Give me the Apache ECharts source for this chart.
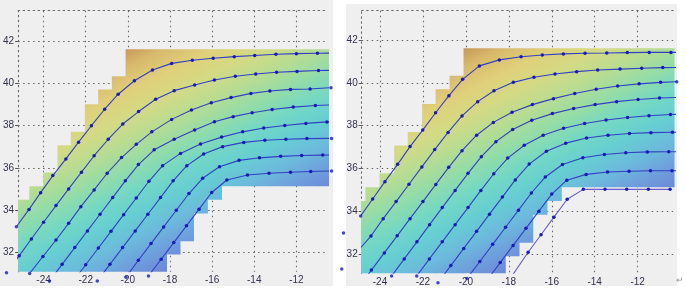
<!DOCTYPE html>
<html><head><meta charset="utf-8">
<script src="https://cdn.jsdelivr.net/npm/echarts@6/dist/echarts.min.js"></script>
<style>html,body{margin:0;padding:0;background:#fff}#c{width:685px;height:288px}</style>
</head><body><div id="c"></div>
<script>
// ---------- data ----------
const xTicks = [-24, -22, -20, -18, -16, -14, -12];
const yTicks = [32, 34, 36, 38, 40, 42];

// staircase region (cell columns): edges, top and bottom of each column
const regionEdges  = [-25.5, -24.66, -24.0, -23.32, -22.69, -22.02, -21.39, -20.74, -20.09, -18.16, -17.52, -16.88, -16.22, -15.55, -10.3];
const regionTop    = [34.48, 35.12, 35.77, 37.07, 37.70, 39.01, 39.70, 40.33, 41.61, 41.61, 41.61, 41.61, 41.61, 41.61];
const regionBottom = [31.0, 31.0, 31.0, 31.0, 31.0, 31.0, 31.0, 31.0, 31.0, 31.9, 32.52, 33.83, 34.48, 35.12];

// left panel lines
const L1 = [[-25.29,33.21],[-24.69,34.03],[-24.14,34.82],[-23.56,35.63],[-22.94,36.42],[-22.34,37.21],[-21.73,37.99],[-21.10,38.77],[-20.46,39.48],[-19.69,40.12],[-18.83,40.63],[-17.92,40.94],[-16.94,41.09],[-15.95,41.18],[-14.95,41.26],[-13.98,41.31],[-12.97,41.37],[-12.0,41.40],[-11.0,41.42],[-10.0,41.43]];
const L2 = [[-25.76,31.03],[-25.16,31.83],[-24.58,32.63],[-24.0,33.42],[-23.41,34.21],[-22.81,35.0],[-22.2,35.79],[-21.6,36.57],[-20.93,37.35],[-20.24,38.07],[-19.49,38.66],[-18.68,39.24],[-17.8,39.65],[-16.83,39.92],[-15.89,40.15],[-14.9,40.33],[-13.93,40.44],[-12.94,40.52],[-11.97,40.56],[-10.95,40.6],[-9.95,40.62]];
const L3 = [[-24.66,31.0],[-24.03,31.8],[-23.41,32.58],[-22.81,33.37],[-22.23,34.16],[-21.6,34.95],[-20.98,35.74],[-20.3,36.48],[-19.6,37.11],[-18.86,37.7],[-17.92,38.29],[-16.98,38.73],[-16.04,39.08],[-15.1,39.32],[-14.16,39.52],[-13.26,39.63],[-12.28,39.71],[-11.35,39.73],[-10.36,39.79]];
const L4 = [[-23.72,30.64],[-23.12,31.43],[-22.52,32.22],[-21.92,33.01],[-21.32,33.8],[-20.72,34.59],[-20.12,35.38],[-19.5,36.15],[-18.75,36.85],[-17.8,37.35],[-16.83,37.79],[-15.89,38.18],[-15.0,38.42],[-14.1,38.6],[-13.15,38.76],[-12.15,38.87],[-11.1,38.95],[-10.1,38.98]];
const L5 = [[-22.6,30.62],[-22.0,31.41],[-21.4,32.2],[-20.8,32.99],[-20.2,33.78],[-19.6,34.57],[-19.0,35.36],[-18.35,36.1],[-17.5,36.68],[-16.55,37.12],[-15.55,37.45],[-14.55,37.7],[-13.55,37.88],[-12.55,38.0],[-11.55,38.1],[-10.55,38.17],[-9.6,38.2]];
const L6 = [[-21.45,30.64],[-20.85,31.43],[-20.25,32.22],[-19.65,33.01],[-19.05,33.8],[-18.45,34.59],[-17.85,35.38],[-17.2,36.1],[-16.4,36.65],[-15.5,37.0],[-14.5,37.2],[-13.5,37.3],[-12.5,37.35],[-11.5,37.38],[-10.33,37.39]];
const L7 = [[-20.09,30.82],[-19.5,31.62],[-18.9,32.41],[-18.3,33.2],[-17.7,33.99],[-17.1,34.78],[-16.45,35.5],[-15.65,36.05],[-14.72,36.35],[-13.75,36.47],[-12.75,36.54],[-11.75,36.58],[-10.75,36.6],[-9.8,36.62]];
const L8 = [[-19.02,30.88],[-18.42,31.67],[-17.82,32.46],[-17.22,33.25],[-16.62,34.04],[-16.02,34.83],[-15.3,35.42],[-14.32,35.66],[-13.3,35.74],[-12.28,35.79],[-11.32,35.82],[-10.33,35.85]];
const leftStray = [[-25.29,33.21],[-25.76,31.03],[-24.66,31.0],[-23.72,30.64],[-21.45,30.64],[-20.09,30.82],[-19.02,30.88],[-10.36,39.79],[-10.33,37.39],[-10.33,35.85]];

// right panel lines
const R1 = [[-25.7,32.98],[-24.9,33.78],[-24.34,34.57],[-23.77,35.38],[-23.18,36.19],[-22.6,37.02],[-22.01,37.79],[-21.41,38.6],[-20.79,39.4],[-20.15,40.16],[-19.37,40.79],[-18.44,41.07],[-17.43,41.22],[-16.44,41.3],[-15.46,41.35],[-14.45,41.38],[-13.44,41.39],[-12.48,41.41],[-11.46,41.42],[-10.45,41.42],[-9.45,41.42]];
const R2 = [[-25.78,31.3],[-24.42,32.84],[-23.85,33.65],[-23.25,34.45],[-22.65,35.26],[-22.05,36.07],[-21.45,36.88],[-20.83,37.68],[-20.18,38.45],[-19.45,39.12],[-18.69,39.63],[-17.79,40.02],[-16.83,40.26],[-15.85,40.41],[-14.84,40.52],[-13.86,40.6],[-12.82,40.64],[-11.81,40.68],[-10.83,40.71],[-9.83,40.72]];
const R3 = [[-24.95,30.5],[-24.4,31.25],[-23.8,32.05],[-23.2,32.85],[-22.6,33.65],[-22.0,34.45],[-21.4,35.25],[-20.8,36.05],[-20.18,36.83],[-19.5,37.55],[-18.72,38.15],[-17.85,38.62],[-16.9,38.98],[-15.92,39.26],[-14.93,39.5],[-13.93,39.7],[-12.93,39.85],[-11.93,39.95],[-10.93,40.02],[-10.18,40.05]];
const R4 = [[-23.46,30.97],[-22.87,31.77],[-22.28,32.57],[-21.69,33.37],[-21.1,34.17],[-20.5,34.97],[-19.9,35.77],[-19.28,36.55],[-18.6,37.25],[-17.82,37.82],[-16.93,38.25],[-15.97,38.56],[-14.98,38.8],[-13.98,38.98],[-12.98,39.12],[-11.98,39.22],[-10.98,39.29],[-9.98,39.32]];
const R5 = [[-22.29,30.97],[-21.7,31.77],[-21.1,32.57],[-20.5,33.37],[-19.9,34.17],[-19.3,34.97],[-18.7,35.75],[-18.05,36.48],[-17.28,37.08],[-16.4,37.55],[-15.45,37.88],[-14.47,38.1],[-13.47,38.26],[-12.47,38.38],[-11.47,38.46],[-10.47,38.52],[-9.47,38.54]];
const R6 = [[-21.3,30.66],[-20.7,31.46],[-20.1,32.26],[-19.5,33.06],[-18.9,33.86],[-18.3,34.66],[-17.7,35.46],[-17.05,36.2],[-16.25,36.8],[-15.35,37.18],[-14.38,37.42],[-13.38,37.55],[-12.38,37.63],[-11.38,37.67],[-10.38,37.69],[-9.4,37.7]];
const R7 = [[-19.95,30.85],[-19.35,31.65],[-18.75,32.45],[-18.15,33.25],[-17.55,34.05],[-16.95,34.85],[-16.3,35.6],[-15.5,36.18],[-14.55,36.5],[-13.55,36.65],[-12.55,36.73],[-11.55,36.77],[-10.55,36.78],[-9.55,36.78]];
const R8 = [[-19.0,30.8],[-18.4,31.6],[-17.8,32.4],[-17.2,33.2],[-16.6,34.0],[-16.0,34.8],[-15.3,35.45],[-14.4,35.72],[-13.4,35.83],[-12.4,35.87],[-11.4,35.89],[-10.4,35.89],[-9.4,35.89]];
const R9 = [[-17.85,30.98],[-17.1,32.08],[-16.5,32.9],[-15.9,33.72],[-15.28,34.56],[-14.53,35.02],[-13.52,35.02],[-12.51,35.02],[-11.5,35.02],[-10.49,35.02]];
const rightStray = [[-25.7,32.98],[-24.9,33.78],[-25.78,31.3],[-23.46,30.97],[-22.29,30.97],[-21.3,30.66],[-19.95,30.85],[-10.18,40.05]];

// ---------- styling ----------
const gradFrom = [-11, 34.5];   // blue end of the colour field
const gradTo = [-15.8, 44.1];   // orange end
const stops = [
  {offset:0.0, color:'#6c84d4'},{offset:0.1, color:'#6e9cdc'},{offset:0.2, color:'#6cbadc'},
  {offset:0.3, color:'#66ced2'},{offset:0.4, color:'#74d8c4'},{offset:0.5, color:'#94dca8'},
  {offset:0.6, color:'#b8dc92'},{offset:0.7, color:'#d4da84'},{offset:0.8, color:'#e0d07a'},
  {offset:0.9, color:'#d8b86c'},{offset:1.0, color:'#c08c50'}];
const dotted = {type:[1.5,3.5], color:'#666', width:1.1};
const labelFont = {fontSize:10, color:'#33334d', fontFamily:'Liberation Sans, Arial, sans-serif'};

const grids = [
  {left:15, top:10.7, width:313, height:261, xr:[-25.208,-10.5], yr:[31.08,43.434]},
  {left:361.7, top:10.7, width:312.4, height:262.6, xr:[-24.852,-10.302], yr:[31.098,43.369]}
];

const xAxes = [], yAxes = [];
grids.forEach((g, i) => {
  xAxes.push({type:'value', gridIndex:i, position:'bottom', min:g.xr[0], max:g.xr[1],
    axisLine:{show:false}, axisTick:{show:false, customValues:xTicks},
    axisLabel:Object.assign({customValues:xTicks, margin:4}, labelFont),
    splitLine:{show:true, lineStyle:dotted}});
  xAxes.push({type:'value', gridIndex:i, position:'top', min:g.xr[0], max:g.xr[1],
    axisLine:{show:true, lineStyle:dotted}, axisTick:{show:false}, axisLabel:{show:false}, splitLine:{show:false}});
  yAxes.push({type:'value', gridIndex:i, min:g.yr[0], max:g.yr[1],
    axisLine:{show:true, lineStyle:dotted},
    axisTick:{show:true, customValues:yTicks, length:3, lineStyle:{color:'#555'}},
    axisLabel:Object.assign({customValues:yTicks, margin:4}, labelFont),
    splitLine:{show:true, lineStyle:dotted}});
});

function regionSeries(gi) {
  return {
    type:'custom', xAxisIndex:gi*2, yAxisIndex:gi, clip:true, silent:true, z:1,
    data: regionTop.map((t, i) => [regionEdges[i], regionEdges[i+1], regionBottom[i], t]),
    encode:{x:[0,1], y:[2,3]},
    renderItem(params, api) {
      const p0 = api.coord([api.value(0), api.value(3)]);
      const p1 = api.coord([api.value(1), api.value(2)]);
      const A = api.coord(gradFrom), B = api.coord(gradTo);
      return {type:'rect',
        shape:{x:p0[0]-0.4, y:p0[1], width:p1[0]-p0[0]+0.8, height:p1[1]-p0[1]},
        style:{fill:new echarts.graphic.LinearGradient(A[0],A[1],B[0],B[1],stops,true)}};
    }
  };
}
function lineSeries(gi, data, color) {
  return {type:'line', xAxisIndex:gi*2, yAxisIndex:gi, data:data, clip:true, z:3,
    symbol:'circle', symbolSize:3.5, showSymbol:true, silent:true,
    lineStyle:{color:color || '#3340c0', width:1.1},
    itemStyle:{color:'#1a1ab8'}};
}
function straySeries(gi, data) {
  return {type:'scatter', xAxisIndex:gi*2, yAxisIndex:gi, data:data, clip:false, z:4,
    symbol:'circle', symbolSize:3.5, silent:true, itemStyle:{color:'#1a1ab8'}};
}

const series = [regionSeries(0), regionSeries(1)];
[L1,L2,L3,L4,L5,L6,L7,L8].forEach(d => series.push(lineSeries(0, d)));
[R1,R2,R3,R4,R5,R6,R7,R8].forEach(d => series.push(lineSeries(1, d)));
series.push(lineSeries(1, R9, '#6a5ac8'));
series.push(straySeries(0, leftStray), straySeries(1, rightStray));

const chart = echarts.init(document.getElementById('c'), null, {renderer:'canvas'});
chart.setOption({
  animation:false,
  backgroundColor:'#ffffff',
  graphic:[
    {type:'rect', z:-100, shape:{x:0, y:0, width:333, height:286}, style:{fill:'#efefef'}},
    {type:'rect', z:-100, shape:{x:346, y:4, width:331, height:282}, style:{fill:'#efefef'}},
    {type:'text', left:676, top:276, style:{text:'\u21b5', fontSize:9, fill:'#999'}}
  ],
  grid: grids.map(g => ({left:g.left, top:g.top, width:g.width, height:g.height})),
  xAxis: xAxes, yAxis: yAxes, series: series
});
</script></body></html>
